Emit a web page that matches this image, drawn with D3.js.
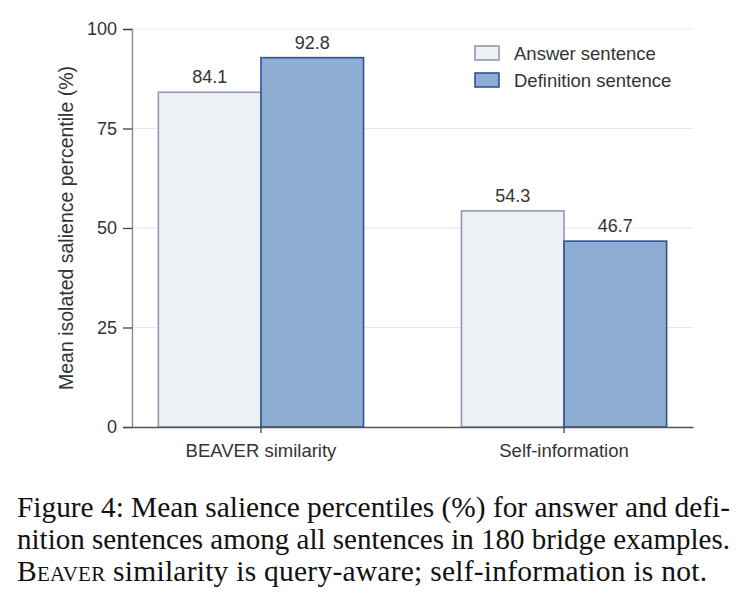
<!DOCTYPE html>
<html>
<head>
<meta charset="utf-8">
<script src="https://cdn.jsdelivr.net/npm/d3@7"></script>
<style>
  body { margin: 0; background: #fff; }
  svg { display: block; }
</style>
</head>
<body>
<div id="chart"></div>
<script>
// chart data
const categories = ["BEAVER similarity", "Self-information"];
const seriesNames = ["Answer sentence", "Definition sentence"];
const answerValues = [84.1, 54.3];
const definitionValues = [92.8, 46.7];
const yTicks = [0, 25, 50, 75, 100];
const captionLines = [
  "Figure 4: Mean salience percentiles (%) for answer and defi-",
  "nition sentences among all sentences in 180 bridge examples.",
  "<sc>Beaver</sc> similarity is query-aware; self-information is not."
];

const width = 746, height = 599;
const margin = { left: 132, right: 53, top: 29, bottom: 172 };

const fills = ["#edf0f5", "#8eadd3"];
const strokes = ["#8f9cb1", "#2c5491"];
const sans = "Liberation Sans, Arial, sans-serif";

const svg = d3.select("#chart").append("svg")
  .attr("width", width)
  .attr("height", height);

const x = d3.scaleBand()
  .domain(categories)
  .range([margin.left, width - margin.right])
  .paddingInner(0.323)
  .paddingOuter(0.087);

const x1 = d3.scaleBand()
  .domain(seriesNames)
  .range([0, x.bandwidth()]);

const y = d3.scaleLinear()
  .domain([0, 100])
  .range([height - margin.bottom, margin.top]);

// grid lines
svg.append("g")
  .selectAll("line")
  .data(yTicks.slice(1))
  .join("line")
  .attr("x1", margin.left)
  .attr("x2", width - margin.right)
  .attr("y1", d => y(d))
  .attr("y2", d => y(d))
  .attr("stroke", "#e6e9ee")
  .attr("stroke-width", 1.2);

const rows = categories.map((c, i) => ({
  cat: c,
  vals: [answerValues[i], definitionValues[i]]
}));

// bars
const groups = svg.append("g")
  .selectAll("g")
  .data(rows)
  .join("g")
  .attr("transform", d => `translate(${x(d.cat)},0)`);

groups.selectAll("rect")
  .data(d => d.vals.map((v, j) => ({ name: seriesNames[j], v, j })))
  .join("rect")
  .attr("x", d => x1(d.name))
  .attr("y", d => y(d.v))
  .attr("width", x1.bandwidth())
  .attr("height", d => y(0) - y(d.v))
  .attr("fill", d => fills[d.j])
  .attr("stroke", d => strokes[d.j])
  .attr("stroke-width", 1.6);

groups.selectAll("text")
  .data(d => d.vals.map((v, j) => ({ name: seriesNames[j], v, j })))
  .join("text")
  .attr("x", d => x1(d.name) + x1.bandwidth() / 2)
  .attr("y", d => y(d.v) - 9)
  .attr("text-anchor", "middle")
  .attr("font-family", sans)
  .attr("font-size", 18)
  .attr("fill", "#333")
  .text(d => d.v.toFixed(1));

// y axis
const yAxis = svg.append("g")
  .attr("transform", `translate(${margin.left},0)`)
  .call(d3.axisLeft(y).tickValues(yTicks).tickSize(9).tickPadding(6));
yAxis.select(".domain").attr("stroke", "#7d8590").attr("stroke-width", 1.3);
yAxis.selectAll(".tick line").attr("stroke", "#444").attr("stroke-width", 1.3);
yAxis.selectAll(".tick text")
  .attr("font-family", sans)
  .attr("font-size", 18)
  .attr("fill", "#333");

// x axis
const xAxis = svg.append("g")
  .attr("transform", `translate(0,${y(0)})`)
  .call(d3.axisBottom(x).tickSize(6).tickSizeOuter(0).tickPadding(11));
xAxis.select(".domain").attr("stroke", "#555").attr("stroke-width", 1.5);
xAxis.selectAll(".tick line").attr("stroke", "#444").attr("stroke-width", 1.3);
xAxis.selectAll(".tick text")
  .attr("font-family", sans)
  .attr("font-size", 18.5)
  .attr("fill", "#333");

// y label
svg.append("text")
  .attr("transform", `translate(73,${(y(0) + y(100)) / 2}) rotate(-90)`)
  .attr("text-anchor", "middle")
  .attr("font-family", sans)
  .attr("font-size", 19.5)
  .attr("fill", "#333")
  .text("Mean isolated salience percentile (%)");

// legend
const legend = svg.append("g").attr("transform", "translate(475,46)");
seriesNames.forEach((s, i) => {
  legend.append("rect")
    .attr("x", 0)
    .attr("y", i * 27)
    .attr("width", 24)
    .attr("height", 14)
    .attr("fill", fills[i])
    .attr("stroke", strokes[i])
    .attr("stroke-width", 1.6);
  legend.append("text")
    .attr("x", 39)
    .attr("y", i * 27 + 14)
    .attr("font-family", sans)
    .attr("font-size", 18.5)
    .attr("fill", "#333")
    .text(s);
});

// caption
const cap = svg.append("g")
  .attr("font-family", "Liberation Serif, Times New Roman, serif")
  .attr("font-size", 29.5)
  .attr("fill", "#111");
captionLines.forEach((line, i) => {
  const t = cap.append("text")
    .attr("x", 17)
    .attr("y", 517 + i * 32);
  if (i < 2) {
    t.attr("textLength", 713).attr("lengthAdjust", "spacingAndGlyphs").text(line);
  } else {
    const m = line.match(/<sc>(.*)<\/sc>(.*)/);
    t.attr("textLength", 690).attr("lengthAdjust", "spacing");
    t.append("tspan").attr("font-variant", "small-caps").text(m[1]);
    t.append("tspan").text(m[2]);
  }
});
</script>
</body>
</html>
